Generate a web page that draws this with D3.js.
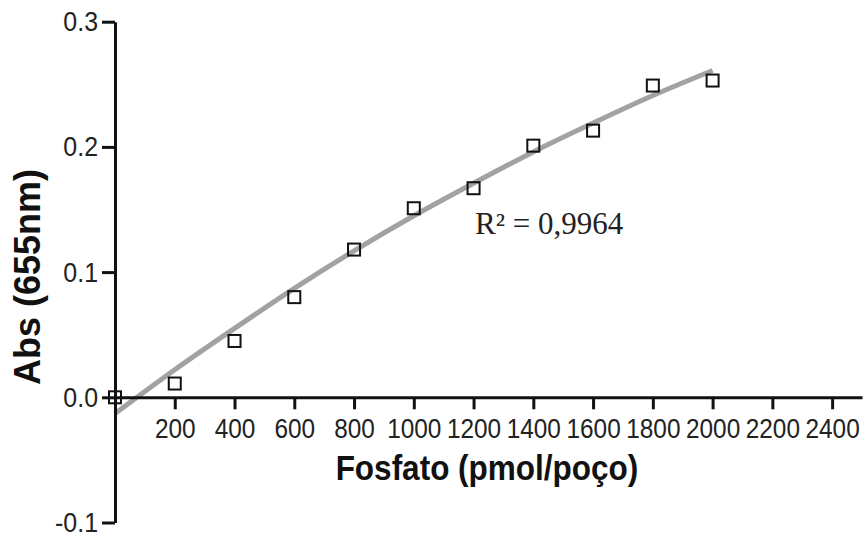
<!DOCTYPE html>
<html>
<head>
<meta charset="utf-8">
<script src="https://cdn.jsdelivr.net/npm/d3@7/dist/d3.min.js"></script>
<style>
  html, body { margin: 0; padding: 0; background: #fff; }
  svg { display: block; }
</style>
</head>
<body>
<svg id="chart" width="864" height="533"></svg>
<script>
// ---- data ----
const fosfato = [0, 200, 400, 600, 800, 1000, 1200, 1400, 1600, 1800, 2000];
const absorbance = [0.0, 0.011, 0.045, 0.080, 0.118, 0.151, 0.167, 0.201, 0.213, 0.249, 0.253];
// fitted curve
const fitX = [0, 200, 400, 600, 800, 1000, 1200, 1400, 1600, 1800, 2000];
const fitY = [-0.013, 0.022, 0.055, 0.087, 0.117, 0.145, 0.171, 0.196, 0.219, 0.241, 0.261];
const xTicks = [200, 400, 600, 800, 1000, 1200, 1400, 1600, 1800, 2000, 2200, 2400];
const yTicks = [-0.1, 0.0, 0.1, 0.2, 0.3];
const xTitle = "Fosfato (pmol/poço)";
const yTitle = "Abs (655nm)";
const r2Label = "R\u00B2 = 0,9964";

const svg = d3.select("#chart");
const x = d3.scaleLinear().domain([0, 2500]).range([115, 862]);
const y = d3.scaleLinear().domain([-0.1, 0.3]).range([522.5, 21.7]);

const SX = 0.89; // horizontal squeeze of text seen in the reference
function squeeze(sel, sx) {
  sel.each(function () {
    const w = this.getComputedTextLength();
    this.setAttribute("textLength", w * sx);
    this.setAttribute("lengthAdjust", "spacingAndGlyphs");
  });
}

// fit line
const line = d3.line().x((d, i) => x(fitX[i])).y(d => y(d)).curve(d3.curveMonotoneX);
svg.append("path")
  .datum(fitY)
  .attr("d", line)
  .attr("fill", "none")
  .attr("stroke", "#a2a2a2")
  .attr("stroke-width", 5)
  .attr("stroke-linecap", "butt");

// axes
const fmtY = d => d3.format(".1f")(d).replace("\u2212", "-");
const xAxis = svg.append("g")
  .attr("transform", `translate(0,${y(0)})`)
  .call(d3.axisBottom(x).tickValues(xTicks).tickFormat(d3.format("d"))
        .tickSize(12).tickSizeOuter(0).tickPadding(9));
const yAxis = svg.append("g")
  .attr("transform", `translate(${x(0)},0)`)
  .call(d3.axisLeft(y).tickValues(yTicks).tickFormat(fmtY)
        .tickSize(13).tickSizeOuter(0).tickPadding(4));

[xAxis, yAxis].forEach(g => {
  g.select(".domain").attr("stroke", "#111").attr("stroke-width", 3);
  g.selectAll(".tick line").attr("stroke", "#111").attr("stroke-width", 3);
  g.selectAll(".tick text")
    .attr("fill", "#222")
    .style("font-family", "'Liberation Sans', Arial, sans-serif")
    .style("font-size", "28px");
});
squeeze(xAxis.selectAll(".tick text"), 0.87);
squeeze(yAxis.selectAll(".tick text"), SX);

// points (open squares)
const s = 12;
svg.append("g").selectAll("rect")
  .data(fosfato)
  .join("rect")
  .attr("x", d => x(d) - s / 2)
  .attr("y", (d, i) => y(absorbance[i]) - s / 2)
  .attr("width", s)
  .attr("height", s)
  .attr("fill", "#fff")
  .attr("fill-opacity", 0)
  .attr("stroke", "#111")
  .attr("stroke-width", 2);

// R² annotation
svg.append("text")
  .attr("x", 475)
  .attr("y", 234)
  .style("font-family", "'Liberation Serif', 'Times New Roman', serif")
  .style("font-size", "31px")
  .attr("fill", "#222")
  .text(r2Label);

// axis titles
const xt = svg.append("text")
  .attr("x", 487)
  .attr("y", 480)
  .attr("text-anchor", "middle")
  .style("font-family", "'Liberation Sans', Arial, sans-serif")
  .style("font-weight", "bold")
  .style("font-size", "35px")
  .attr("fill", "#111")
  .text(xTitle);
squeeze(xt, 0.9);

svg.append("text")
  .attr("transform", "translate(40,277) rotate(-90)")
  .attr("text-anchor", "middle")
  .style("font-family", "'Liberation Sans', Arial, sans-serif")
  .style("font-weight", "bold")
  .style("font-size", "36px")
  .attr("fill", "#111")
  .text(yTitle);
</script>
</body>
</html>
